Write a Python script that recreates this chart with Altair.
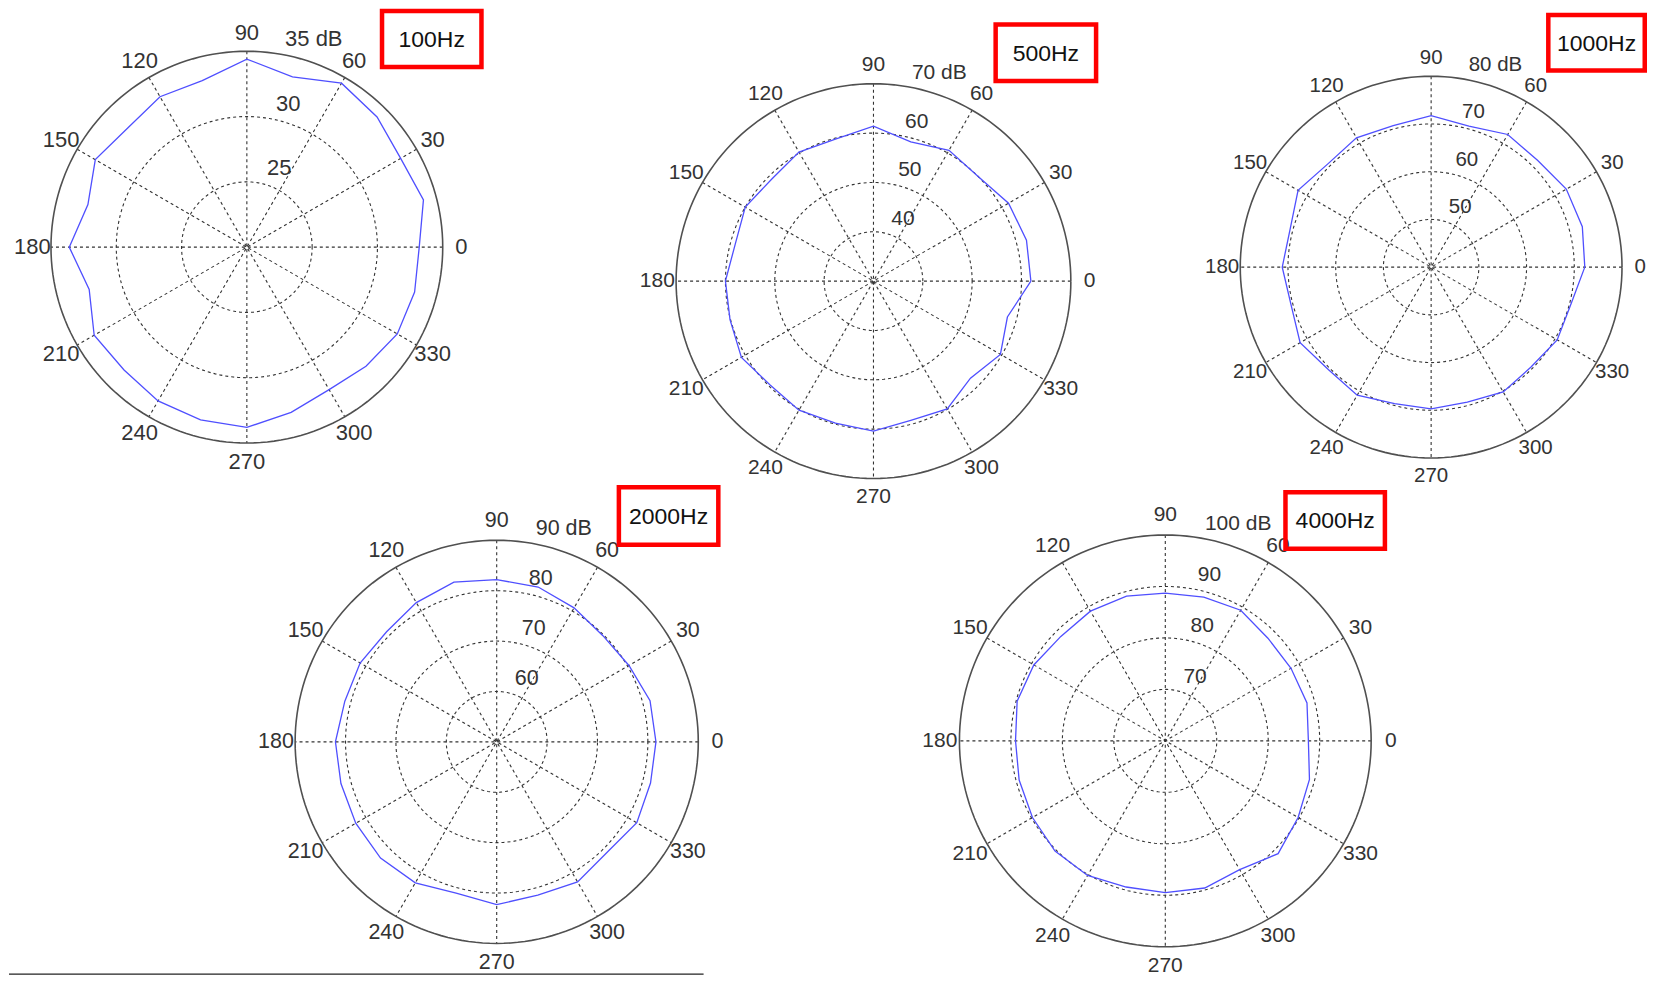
import altair as alt
import pandas as pd

# ---------------- data ----------------
ANGLES = list(range(0, 360, 15))  # measurement angles (deg)

LEVEL_100HZ = [33.2, 34.0, 33.6, 34.1, 34.5, 33.5, 34.4, 33.2, 33.3, 32.9, 33.4, 32.6,
               33.6, 32.5, 33.5, 33.3, 33.6, 33.7, 33.8, 33.1, 32.6, 32.9, 33.3, 33.3]
LEVEL_500HZ = [61.9, 62.1, 61.6, 60.0, 60.6, 59.2, 61.4, 59.8, 60.2, 59.2, 60.0, 59.0,
               60.0, 60.1, 60.9, 59.7, 60.2, 59.8, 60.4, 59.2, 59.9, 57.8, 59.7, 58.1]
LEVEL_1000HZ = [72.2, 72.8, 72.7, 71.6, 72.1, 70.6, 71.75, 70.7, 71.3, 70.6, 72.2, 70.6,
                71.2, 70.4, 71.7, 70.4, 71.0, 69.6, 69.7, 69.3, 70.2, 69.6, 70.5, 70.3]
LEVEL_2000HZ = [81.6, 81.5, 80.3, 79.8, 80.7, 81.8, 82.2, 82.8, 81.9, 80.9, 81.3, 81.2,
                82.0, 82.0, 82.3, 82.6, 82.3, 81.1, 82.3, 81.5, 82.1, 81.0, 82.1, 81.6]
LEVEL_4000HZ = [87.8, 88.5, 88.2, 88.2, 89.3, 88.9, 88.7, 89.1, 89.1, 88.7, 89.5, 89.8,
                89.1, 89.4, 89.8, 90.3, 90.2, 89.4, 89.5, 89.6, 88.9, 91.0, 89.8, 89.0]
LEVELS = [LEVEL_100HZ, LEVEL_500HZ, LEVEL_1000HZ, LEVEL_2000HZ, LEVEL_4000HZ]

FREQ_LABELS = ["100Hz", "500Hz", "1000Hz", "2000Hz", "4000Hz"]
CENTER_DB = [20, 30, 40, 50, 60]          # radial value at the pole
OUTER_DB = [35, 70, 80, 90, 100]          # radial value at the outer circle
RING_TICKS = [[25, 30], [40, 50, 60], [50, 60, 70], [60, 70, 80], [70, 80, 90]]
SPOKE_ANGLES = [0, 30, 60, 90, 120, 150]
ANGLE_TICKS = list(range(0, 360, 30))
CIRCLE_SAMPLES = list(range(0, 361, 2))   # sampling of grid circles
RING_LABEL_ANGLE = 82

# ---------------- layout (page pixels: pole position, outer radius, label box) ----------------
CANVAS_W, CANVAS_H, ORIGIN = 1640, 968, 8
LAYOUT = [
    dict(cx=246, cy=247, R=196, box=(379, 8.5, 483, 69), font=22),
    dict(cx=873, cy=281, R=197.5, box=(993, 22, 1098, 83), font=21),
    dict(cx=1431, cy=267, R=191, box=(1546, 12.5, 1647, 72.5), font=20.5),
    dict(cx=496, cy=742, R=201.7, box=(616, 485, 720, 547), font=21.5),
    dict(cx=1165, cy=741, R=206, box=(1283, 490, 1387, 551), font=21),
]

FONT = "Liberation Sans"
GRID = "#333333"
BLUE = "#4f4fff"

XS = alt.Scale(domain=[ORIGIN, ORIGIN + CANVAS_W], nice=False, zero=False)
YS = alt.Scale(domain=[ORIGIN, ORIGIN + CANVAS_H], nice=False, zero=False, reverse=True)
X = alt.X("px:Q", scale=XS, axis=None)
Y = alt.Y("py:Q", scale=YS, axis=None)


def panel_layers(i):
    g = LAYOUT[i]
    c0, c1 = CENTER_DB[i], OUTER_DB[i]
    cx, cy, R = g["cx"], g["cy"], g["R"]

    def polar(chart, rexpr):
        return chart.transform_calculate(r=rexpr).transform_calculate(
            px=f"{cx} + {R} * datum.r * cos(datum.a * PI / 180)",
            py=f"{cy} - {R} * datum.r * sin(datum.a * PI / 180)",
        )

    norm = f"(datum.v - {c0}) / {c1 - c0}"

    rings_df = pd.DataFrame([(v, a) for v in RING_TICKS[i] for a in CIRCLE_SAMPLES], columns=["v", "a"])
    rings = polar(alt.Chart(rings_df), norm).mark_line(
        color=GRID, strokeWidth=1.1, strokeDash=[3, 3]
    ).encode(x=X, y=Y, detail="v:N", order="a:Q")

    outer_df = pd.DataFrame({"v": [c1] * len(CIRCLE_SAMPLES), "a": CIRCLE_SAMPLES})
    outer = polar(alt.Chart(outer_df), norm).mark_line(
        color="#505050", strokeWidth=1.6
    ).encode(x=X, y=Y, order="a:Q")

    spokes_df = pd.DataFrame({"a": SPOKE_ANGLES})
    spokes = alt.Chart(spokes_df).transform_calculate(
        px=f"{cx} + {R} * cos(datum.a * PI / 180)", py=f"{cy} - {R} * sin(datum.a * PI / 180)",
        qx=f"{cx} - {R} * cos(datum.a * PI / 180)", qy=f"{cy} + {R} * sin(datum.a * PI / 180)",
    ).mark_rule(color=GRID, strokeWidth=1.1, strokeDash=[3, 3]).encode(
        x=X, y=Y, x2="qx:Q", y2="qy:Q"
    )

    lv = LEVELS[i]
    trace_df = pd.DataFrame({"a": ANGLES + [360], "v": lv + [lv[0]]})
    trace = polar(alt.Chart(trace_df), norm).mark_line(
        color=BLUE, strokeWidth=1.3
    ).encode(x=X, y=Y, order="a:Q")

    alab_df = pd.DataFrame({"a": ANGLE_TICKS, "t": [str(a) for a in ANGLE_TICKS]})
    alab = polar(alt.Chart(alab_df), "1.095").mark_text(
        font=FONT, fontSize=g["font"], color=GRID, align="center", baseline="middle"
    ).encode(x=X, y=Y, text="t:N")

    ring_vals = RING_TICKS[i] + [c1]
    ring_txt = [str(v) for v in RING_TICKS[i]] + [f"{c1} dB"]
    rlab_df = pd.DataFrame({"v": ring_vals, "t": ring_txt, "a": [RING_LABEL_ANGLE] * len(ring_vals)})
    rlab = polar(alt.Chart(rlab_df), norm).mark_text(
        font=FONT, fontSize=g["font"], color=GRID, align="left", baseline="alphabetic", dx=11, dy=-7
    ).encode(x=X, y=Y, text="t:N")

    bx0, by0, bx1, by1 = g["box"]
    sw = 4.5
    box_df = pd.DataFrame({"t": [FREQ_LABELS[i]]})
    box = alt.Chart(box_df).mark_rect(filled=False, stroke="#ff0000", strokeWidth=sw).encode(
        x=alt.value(bx0 - ORIGIN + sw / 2), x2=alt.value(bx1 - ORIGIN - sw / 2),
        y=alt.value(by0 - ORIGIN + sw / 2), y2=alt.value(by1 - ORIGIN - sw / 2),
    )
    box_text = alt.Chart(box_df).mark_text(
        font=FONT, fontSize=23, color="#111111", align="center", baseline="middle"
    ).encode(
        x=alt.value((bx0 + bx1) / 2 - ORIGIN), y=alt.value((by0 + by1) / 2 - ORIGIN + 1),
        text="t:N",
    )
    return [spokes, rings, outer, trace, alab, rlab, box, box_text]


layers = []
for i in range(5):
    layers.extend(panel_layers(i))

# thin page rule at the bottom left of the reference
base_df = pd.DataFrame({"k": [0]})
layers.append(
    alt.Chart(base_df).mark_rule(color="#222222", strokeWidth=1.2).encode(
        x=alt.value(0), x2=alt.value(695), y=alt.value(CANVAS_H - 1.5)
    )
)

chart = alt.layer(*layers).properties(
    width=CANVAS_W, height=CANVAS_H, padding=0, background="white"
).configure_view(stroke=None)

chart.save("out.html", embed_options={"renderer": "svg", "actions": False})
